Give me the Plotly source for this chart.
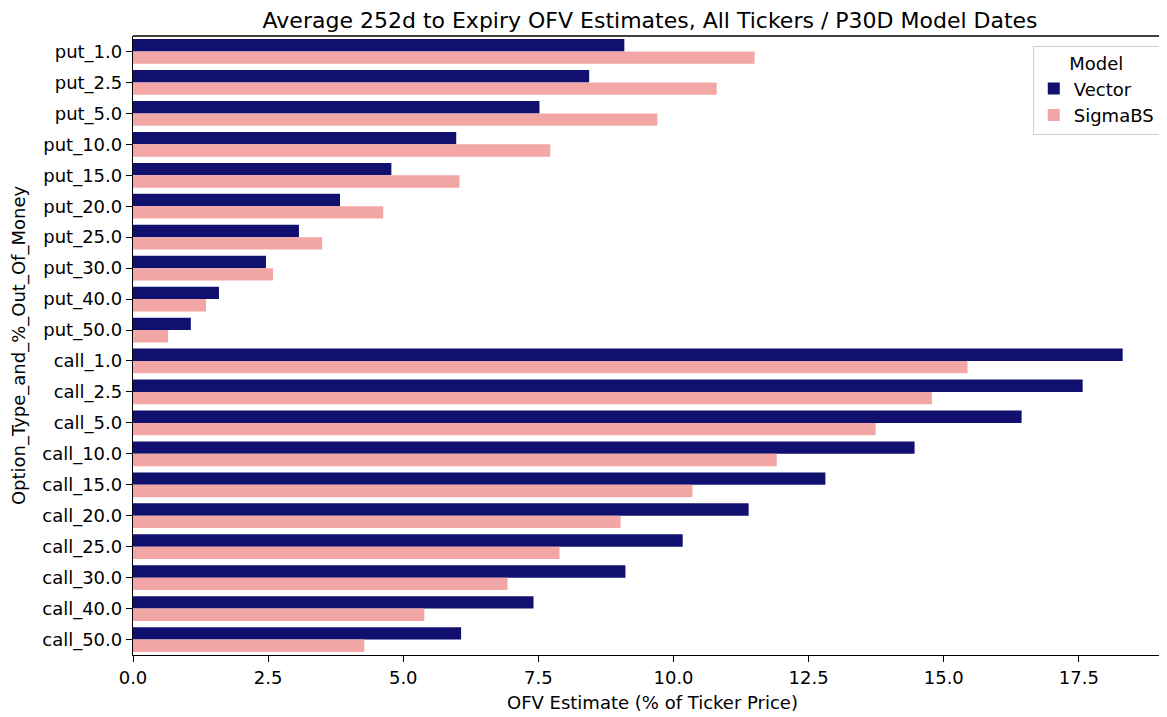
import plotly.graph_objects as go

CATEGORIES = [
    "put_1.0", "put_2.5", "put_5.0", "put_10.0", "put_15.0",
    "put_20.0", "put_25.0", "put_30.0", "put_40.0", "put_50.0",
    "call_1.0", "call_2.5", "call_5.0", "call_10.0", "call_15.0",
    "call_20.0", "call_25.0", "call_30.0", "call_40.0", "call_50.0",
]
VECTOR = [9.09, 8.44, 7.52, 5.98, 4.78, 3.83, 3.07, 2.46, 1.59, 1.07,
          18.31, 17.57, 16.44, 14.46, 12.81, 11.39, 10.17, 9.11, 7.41, 6.07]
SIGMA_BS = [11.50, 10.80, 9.70, 7.72, 6.04, 4.63, 3.50, 2.59, 1.35, 0.65,
            15.44, 14.78, 13.74, 11.91, 10.35, 9.02, 7.89, 6.93, 5.39, 4.28]
X_TICKS = [0.0, 2.5, 5.0, 7.5, 10.0, 12.5, 15.0, 17.5]

FONT = "DejaVu Sans, sans-serif"

fig = go.Figure()
fig.add_trace(go.Bar(y=CATEGORIES, x=VECTOR, orientation="h", name="Vector",
                     marker=dict(color="#11106f", line_width=0)))
fig.add_trace(go.Bar(y=CATEGORIES, x=SIGMA_BS, orientation="h", name="SigmaBS",
                     marker=dict(color="#f2a6a6", line_width=0)))

# page body has an 8px margin, so the figure is sized to sit flush with the window
fig.update_layout(
    width=1159, height=709,
    template="plotly_white",
    paper_bgcolor="white", plot_bgcolor="white",
    font=dict(family=FONT, size=18, color="black"),
    margin=dict(l=125, r=0, t=28, b=62),
    barmode="group", bargap=0.2, bargroupgap=0,
    title=dict(text="Average 252d to Expiry OFV Estimates, All Tickers / P30D Model Dates",
               x=0.554, xanchor="center", y=0.983, yanchor="middle",
               font=dict(size=22)),
    legend=dict(
        x=0.993, xanchor="right", y=0.984, yanchor="top",
        bgcolor="white", bordercolor="#d0d0d0", borderwidth=1,
        title=dict(text="Model", side="top center", font=dict(size=18)),
        font=dict(size=18), itemwidth=30,
    ),
    shapes=[dict(type="line", xref="paper", yref="paper", x0=0, x1=1, y0=1, y1=1,
                 line=dict(color="black", width=1.3))],
)
# x-axis title as an annotation so it can sit a little lower than plotly puts it
fig.add_annotation(
    text="OFV Estimate (% of Ticker Price)", xref="paper", yref="paper",
    x=0.502, y=0, yshift=-47, xanchor="center", yanchor="middle",
    showarrow=False, font=dict(size=18),
)
fig.update_xaxes(
    range=[0, 19.13], tickvals=X_TICKS, ticktext=[f"{t:.1f}" for t in X_TICKS],
    showgrid=False, zeroline=False, showline=True, linecolor="black", linewidth=1.3,
    ticks="outside", ticklen=6, tickcolor="black", automargin=False,
    tickfont=dict(size=18),
)
fig.update_yaxes(
    autorange="reversed", showgrid=False, zeroline=False,
    showline=True, linecolor="black", linewidth=1.3,
    ticks="outside", ticklen=6, tickcolor="black", automargin=False,
    tickfont=dict(size=18),
    title=dict(text="Option_Type_and_%_Out_Of_Money", standoff=20, font=dict(size=18)),
)

fig.write_html("out.html")
